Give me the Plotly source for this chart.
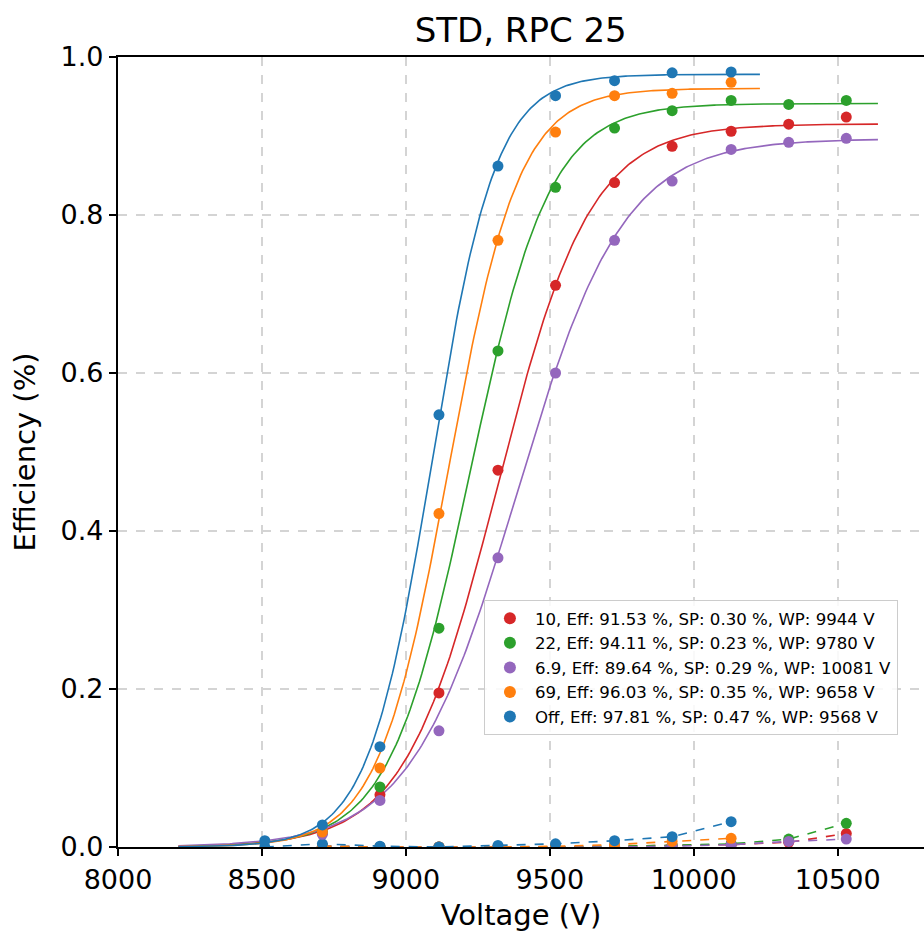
import numpy as np
import plotly.graph_objects as go

# ---------------- data ----------------
names = ["10", "22", "6.9", "69", "Off"]
labels = [
    "10, Eff: 91.53 %, SP: 0.30 %, WP: 9944 V",
    "22, Eff: 94.11 %, SP: 0.23 %, WP: 9780 V",
    "6.9, Eff: 89.64 %, SP: 0.29 %, WP: 10081 V",
    "69, Eff: 96.03 %, SP: 0.35 %, WP: 9658 V",
    "Off, Eff: 97.81 %, SP: 0.47 %, WP: 9568 V",
]
colors = ["#d62728", "#2ca02c", "#9467bd", "#ff7f0e", "#1f77b4"]

v_10 = [8710, 8910, 9115, 9320, 9520, 9725, 9925, 10130, 10330, 10530]
eff_10 = [0.018, 0.066, 0.195, 0.477, 0.711, 0.841, 0.887, 0.906, 0.915, 0.924]
sp_10 = [0.001, 0.000, 0.000, 0.000, 0.000, 0.001, 0.002, 0.003, 0.006, 0.017]

v_22 = [8710, 8910, 9115, 9320, 9520, 9725, 9925, 10130, 10330, 10530]
eff_22 = [0.019, 0.076, 0.277, 0.628, 0.835, 0.910, 0.932, 0.945, 0.940, 0.945]
sp_22 = [0.001, 0.000, 0.000, 0.000, 0.000, 0.001, 0.002, 0.004, 0.010, 0.030]

v_6p9 = [8710, 8910, 9115, 9320, 9520, 9725, 9925, 10130, 10330, 10530]
eff_6p9 = [0.016, 0.059, 0.147, 0.366, 0.600, 0.768, 0.843, 0.883, 0.892, 0.897]
sp_6p9 = [0.001, 0.000, 0.000, 0.000, 0.000, 0.000, 0.001, 0.003, 0.007, 0.010]

v_69 = [8710, 8910, 9115, 9320, 9520, 9725, 9925, 10130]
eff_69 = [0.019, 0.100, 0.422, 0.768, 0.905, 0.951, 0.954, 0.968]
sp_69 = [0.001, 0.000, 0.000, 0.000, 0.001, 0.003, 0.007, 0.011]

v_off = [8510, 8710, 8910, 9115, 9320, 9520, 9725, 9925, 10130]
eff_off = [0.008, 0.028, 0.127, 0.547, 0.862, 0.951, 0.970, 0.980, 0.981]
sp_off = [0.000, 0.004, 0.001, 0.000, 0.002, 0.004, 0.008, 0.013, 0.032]

# sigmoid fit parameters: Emax / (1 + exp(-lam * (V - hv50)))
emax = [0.9153, 0.9411, 0.8964, 0.9603, 0.9781]
lam = [0.0062, 0.0072, 0.0054, 0.0082, 0.0090]
hv50 = [9319, 9221, 9386, 9149, 9091]
fit_start = [8210, 8210, 8210, 8210, 8210]
fit_end = [10640, 10640, 10640, 10230, 10230]

voltages = [v_10, v_22, v_6p9, v_69, v_off]
effs = [eff_10, eff_22, eff_6p9, eff_69, eff_off]
sps = [sp_10, sp_22, sp_6p9, sp_69, sp_off]

x_ticks = [8000, 8500, 9000, 9500, 10000, 10500]
x_ticktext = ["8000", "8500", "9000", "9500", "10000", "10500"]
y_ticks = [0.0, 0.2, 0.4, 0.6, 0.8, 1.0]
y_ticktext = ["0.0", "0.2", "0.4", "0.6", "0.8", "1.0"]

# ---------------- figure ----------------
fig = go.Figure()
for i in range(len(names)):
    xf = np.linspace(fit_start[i], fit_end[i], 300)
    yf = emax[i] / (1 + np.exp(-lam[i] * (xf - hv50[i])))
    fig.add_trace(go.Scatter(x=xf, y=yf, mode="lines",
                             line=dict(color=colors[i], width=1.6),
                             showlegend=False, hoverinfo="skip"))
    fig.add_trace(go.Scatter(x=voltages[i], y=sps[i], mode="lines+markers",
                             line=dict(color=colors[i], width=1.6, dash="dash"),
                             marker=dict(color=colors[i], size=11),
                             showlegend=False))
for i in range(len(names)):
    fig.add_trace(go.Scatter(x=voltages[i], y=effs[i], mode="markers",
                             marker=dict(color=colors[i], size=11),
                             name=labels[i], legendgroup=names[i]))

fig.update_layout(
    width=924, height=936,
    margin=dict(l=118, r=0, t=57, b=89),
    paper_bgcolor="white", plot_bgcolor="white",
    font=dict(family="DejaVu Sans", color="black"),
    title=dict(text="STD, RPC 25", x=0.5635, xanchor="center",
               y=0.968, yanchor="middle", font=dict(size=34)),
    showlegend=True,
    legend=dict(x=0.454, y=0.3127, xanchor="left", yanchor="top",
                bgcolor="rgba(255,255,255,0.85)", bordercolor="#cccccc",
                borderwidth=1, font=dict(size=16.6), tracegroupgap=0,
                itemwidth=40, itemsizing="constant"),
)
fig.update_xaxes(range=[8000, 10800], tickvals=x_ticks, ticktext=x_ticktext,
                 tickfont=dict(size=27),
                 title=dict(text="Voltage (V)", font=dict(size=29), standoff=11),
                 showline=True, linecolor="black", linewidth=2.2, mirror=True,
                 ticks="outside", ticklen=7, tickwidth=2, tickcolor="black",
                 showgrid=True, gridcolor="#d4d4d4", griddash="dash", gridwidth=1.5,
                 zeroline=False)
fig.update_yaxes(range=[0, 1.0], tickvals=y_ticks, ticktext=y_ticktext,
                 tickfont=dict(size=27),
                 title=dict(text="Efficiency (%)", font=dict(size=29), standoff=16),
                 showline=True, linecolor="black", linewidth=2.2, mirror=False,
                 ticks="outside", ticklen=7, tickwidth=2, tickcolor="black",
                 showgrid=True, gridcolor="#d4d4d4", griddash="dash", gridwidth=1.5,
                 zeroline=False)

fig.write_html("out.html")
